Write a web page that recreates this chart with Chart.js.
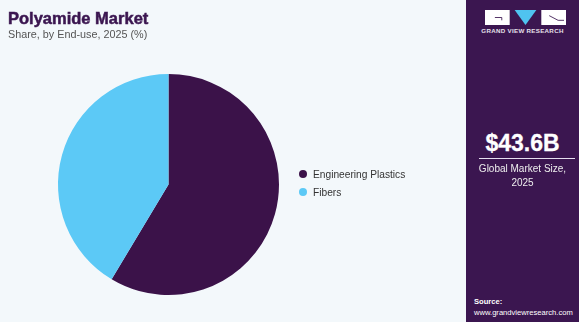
<!DOCTYPE html>
<html>
<head>
<meta charset="utf-8">
<script src="https://cdn.jsdelivr.net/npm/chart.js@4"></script>
<style>
    html, body { margin: 0; padding: 0; }
    body { width: 579px; height: 322px; position: relative; overflow: hidden; background: #f3f8fb; font-family: "Liberation Sans", Arial, sans-serif; }
    #chart-wrap { position: absolute; left: 0; top: 0; width: 466px; height: 322px; }
    .title { position: absolute; left: 8px; top: 9px; font-size: 16.5px; font-weight: 900; color: #3b1650; -webkit-text-stroke: 0.5px #3b1650; }
    .subtitle { position: absolute; left: 8px; top: 28px; font-size: 10.8px; color: #555; }
    .legend { position: absolute; left: 299px; top: 167px; font-size: 10.2px; color: #333; }
    .legend div { height: 18px; line-height: 15px; white-space: nowrap; }
    .legend span { display: inline-block; width: 8px; height: 8px; border-radius: 50%; margin-right: 6px; vertical-align: 0px; }
    .panel { position: absolute; left: 466px; top: 0; width: 113px; height: 322px; background: #3b1650; color: #fff; }
    .logo { position: absolute; left: 19px; top: 10px; width: 81px; height: 15px; }
    .logo-text { position: absolute; left: 0; top: 27px; width: 113px; text-align: center; font-size: 6.2px; font-weight: bold; letter-spacing: 0.3px; color: #e6e0ea; }
    .size { position: absolute; left: 0; top: 130px; width: 113px; text-align: center; font-size: 23px; font-weight: bold; -webkit-text-stroke: 0.3px #fff; }
    .rule { position: absolute; left: 13px; top: 158px; width: 96px; height: 1px; background: #e6dff0; }
    .size-label { position: absolute; left: 0; top: 162px; width: 113px; text-align: center; font-size: 10px; line-height: 14px; color: #eee; }
    .source { position: absolute; left: 8px; top: 296px; font-size: 7.6px; line-height: 11px; color: #fff; }
</style>
</head>
<body>
<div id="chart-wrap"><canvas id="pie"></canvas></div>
<div class="title">Polyamide Market</div>
<div class="subtitle">Share, by End-use, 2025 (%)</div>
<div class="legend" id="legend"></div>

<div class="panel">
    <svg class="logo" viewBox="0 0 82 16" preserveAspectRatio="none">
        <rect x="0" y="0" width="25" height="16" fill="#fff"/>
        <path d="M10 8 H17 V11" stroke="#3b1650" stroke-width="0.9" fill="none"/>
        <polygon points="30,0 52,0 41,16" fill="#4fc3f0"/>
        <rect x="57" y="0" width="25" height="16" fill="#fff"/>
        <path d="M65 6 L74 11 H80" stroke="#3b1650" stroke-width="0.9" fill="none"/>
    </svg>
    <div class="logo-text">GRAND VIEW RESEARCH</div>
    <div class="size">$43.6B</div>
    <div class="rule"></div>
    <div class="size-label">Global Market Size,<br>2025</div>
    <div class="source"><b>Source:</b><br>www.grandviewresearch.com</div>
</div>

<script>
// end-use shares, percent
const segments = ["Engineering Plastics", "Fibers"];
const shares = [58.6, 41.4];
const colors = ["#3b1249", "#5cc9f6"];

const legend = document.getElementById("legend");
segments.forEach((name, i) => {
    const row = document.createElement("div");
    row.innerHTML = '<span style="background:' + colors[i] + '"></span>' + name;
    legend.appendChild(row);
});

new Chart(document.getElementById("pie"), {
    type: "pie",
    data: {
        labels: segments,
        datasets: [{
            data: shares,
            backgroundColor: colors,
            borderWidth: 0
        }]
    },
    options: {
        responsive: true,
        maintainAspectRatio: false,
        animation: false,
        layout: { padding: { left: 58, right: 187, top: 74, bottom: 27 } },
        plugins: {
            legend: { display: false },
            tooltip: { enabled: false }
        }
    }
});
</script>
</body>
</html>
